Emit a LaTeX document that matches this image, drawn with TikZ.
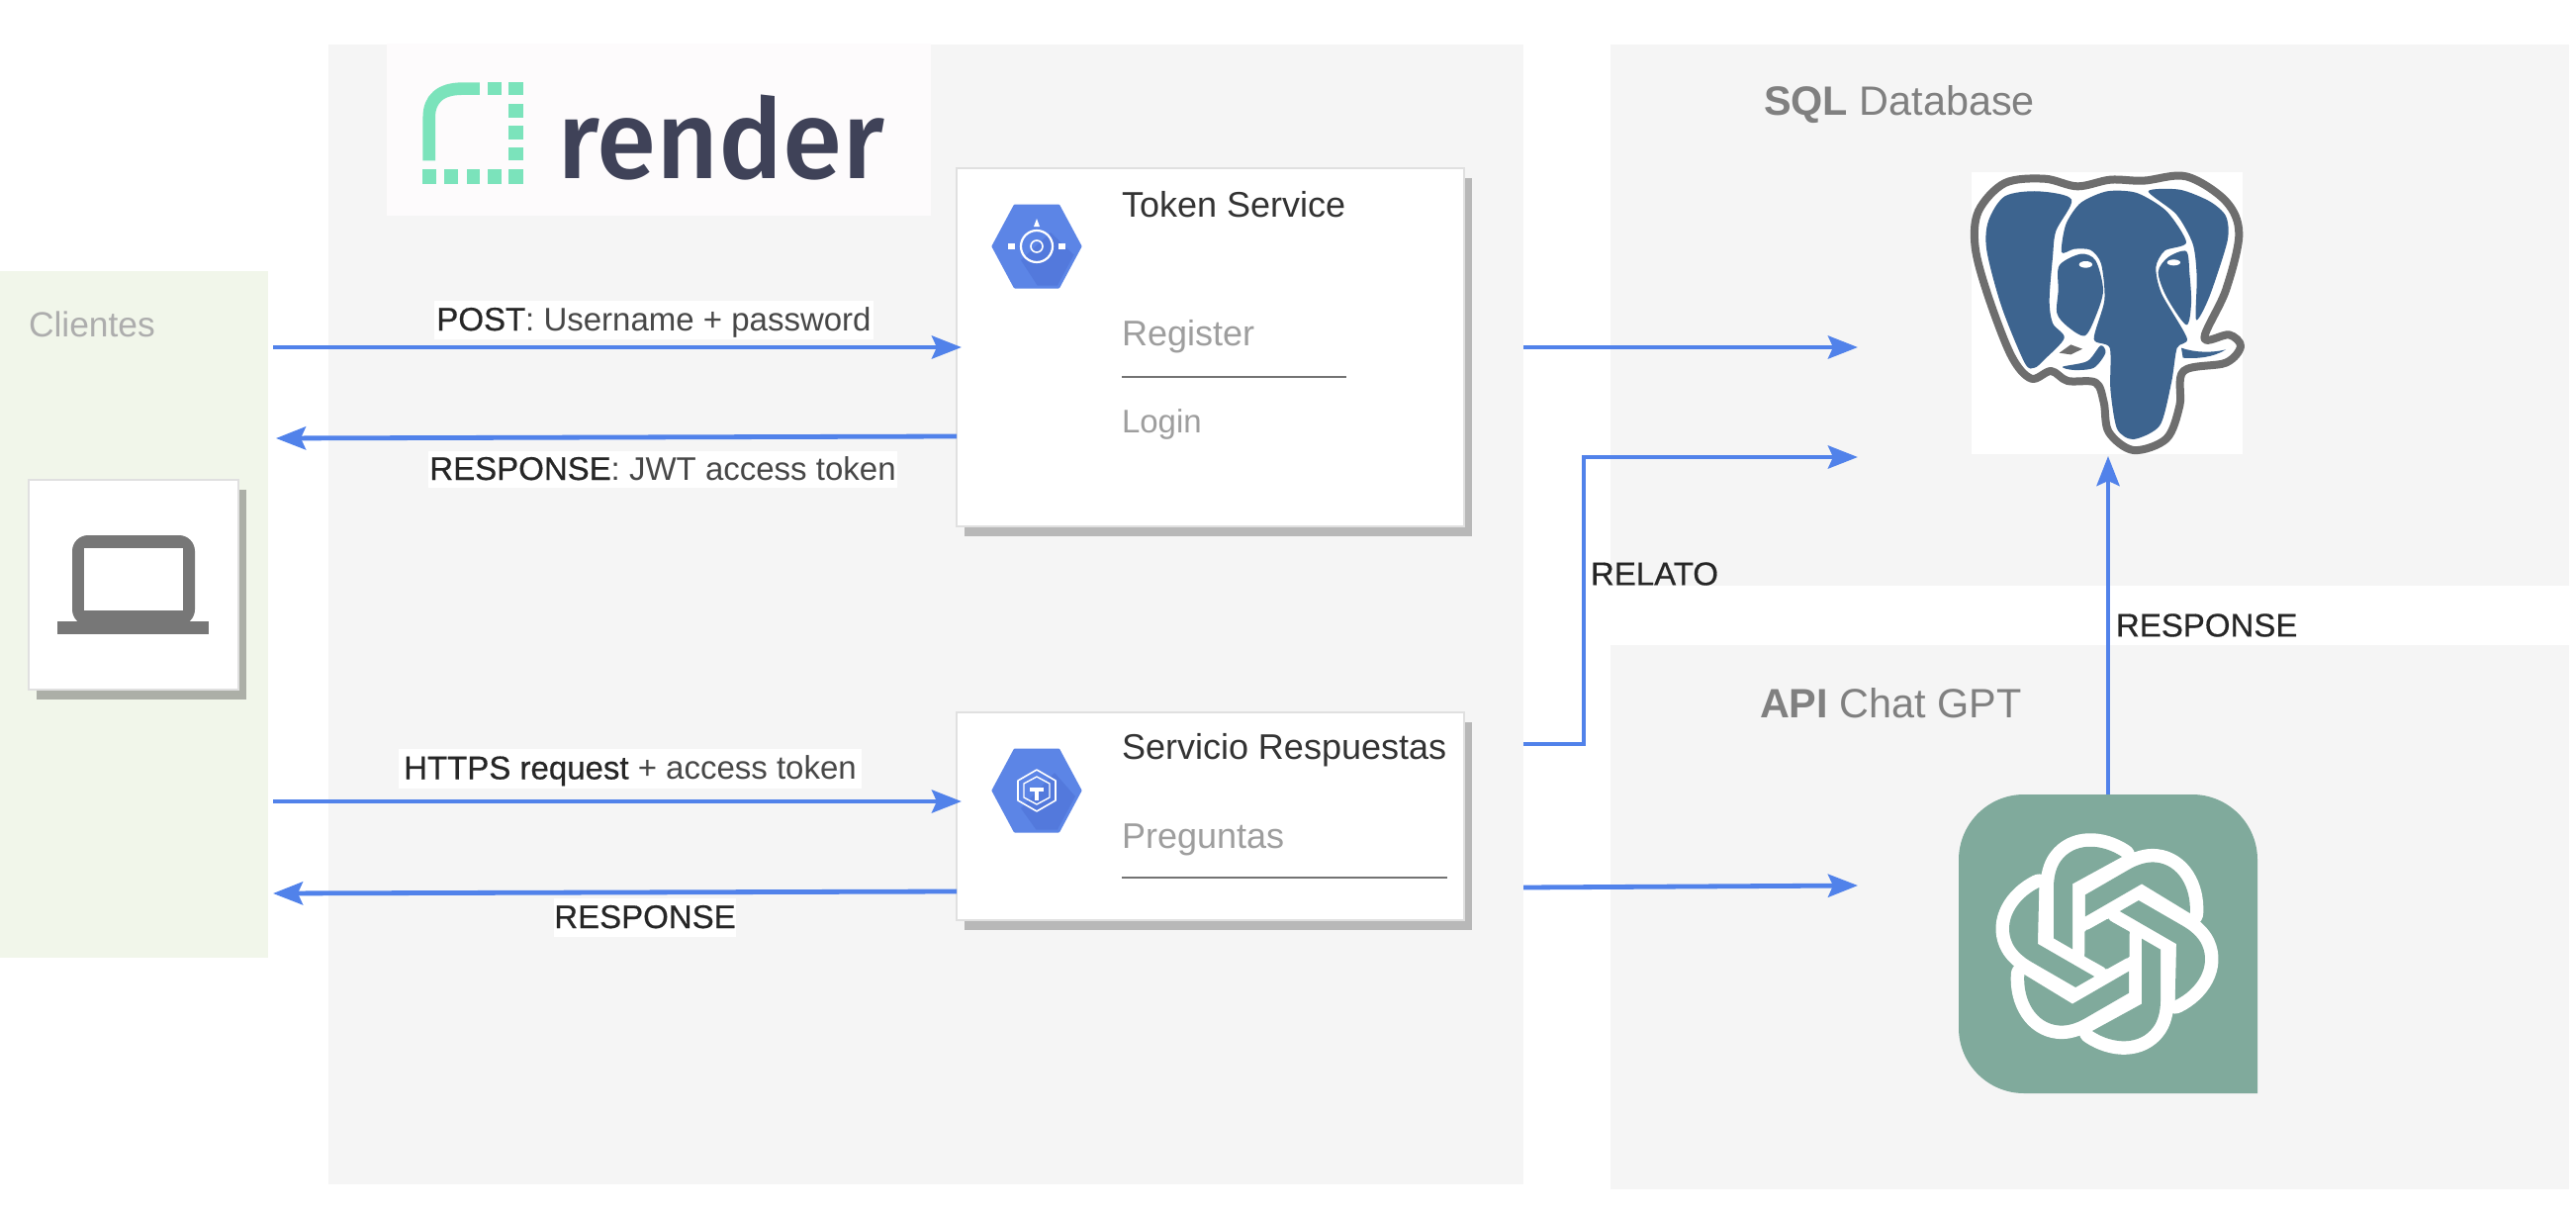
\documentclass[tikz,border=0pt]{standalone}
\usepackage{fontspec}
\setmainfont{Liberation Sans}
\newfontfamily\renderfont[FakeStretch=.975]{Fira Sans Medium}
\newfontfamily\heavyish[FakeBold=.5]{Liberation Sans}
\usetikzlibrary{arrows.meta,shadows,calc}
\definecolor{panelgrey}{HTML}{F5F5F5}
\definecolor{clientgreen}{HTML}{F1F6EA}
\definecolor{logobg}{HTML}{FDFBFC}
\definecolor{flowblue}{HTML}{5182EA}
\definecolor{mint}{HTML}{7BE3BB}
\definecolor{renderink}{HTML}{3F4258}
\definecolor{pgblue}{HTML}{3D648F}
\definecolor{pggrey}{HTML}{6E6E6E}
\definecolor{gptgreen}{HTML}{80AA9C}
\definecolor{hexlight}{HTML}{5C85E6}
\definecolor{hexdark}{HTML}{5379DC}
\definecolor{lapgrey}{HTML}{777777}
\tikzset{
  panel/.style={fill=#1,draw=none,inner sep=0pt,outer sep=0pt,anchor=north west},
  card/.style={fill=white,draw=black!12,line width=.8pt,inner sep=0pt,outer sep=0pt,anchor=north west,
    drop shadow={shadow xshift=3.8pt,shadow yshift=-5pt,fill=#1,opacity=1}},
  flow/.style={draw=flowblue,line width=2.4pt,-{Stealth[length=15pt,width=11.5pt,inset=2.5pt]}},
  edgelabel/.style={fill=white,inner sep=0pt,outer sep=0pt,text height=13pt,text depth=2.5pt,font=\fontsize{16.5}{18}\selectfont,text=black!72},
  freelabel/.style={inner sep=0pt,outer sep=0pt,font=\heavyish\fontsize{16.5}{18}\selectfont,text=black!85,anchor=west},
  title/.style={inner sep=0pt,outer sep=0pt,anchor=west,font=\fontsize{18}{20}\selectfont,text=black!80},
  subtitle/.style={inner sep=0pt,outer sep=0pt,anchor=west,font=\fontsize{18}{20}\selectfont,text=black!38},
  paneltitle/.style={inner sep=0pt,outer sep=0pt,anchor=west,font=\fontsize{20.7}{22}\selectfont,text=black!50},
  rule/.style={draw=black!55,line width=.9pt},
}
\newcommand{\hexshape}{(-44,0) -- (-22,-41) -- (22,-41) -- (44,0) -- (22,41) -- (-22,41) -- cycle}
\begin{document}
\begin{tikzpicture}[x=.5pt,y=-.5pt]
\useasboundingbox (0,0) rectangle (2604,1226);
% panels
\node[panel=clientgreen,minimum width=135.5pt,minimum height=347pt] (clients) at (0,274) {};
\node[panel=panelgrey,minimum width=604pt,minimum height=576pt] (renderpanel) at (332,45) {};
\node[panel=logobg,minimum width=275pt,minimum height=87pt] (logobox) at (391,44) {};
\node[panel=panelgrey,minimum width=484.5pt,minimum height=273.5pt] (sqlpanel) at (1628,45) {};
\node[panel=panelgrey,minimum width=484.5pt,minimum height=275pt] (apipanel) at (1628,652) {};
% render logo
\begin{scope}[shift={(380,30)},x=.1977pt,y=-.1667pt]
  \draw[mint,line width=6.3pt] (136,397) -- (136,265) .. controls (136,210) and (165,179) .. (220,179) -- (265,179);
  \foreach \xa/\xb in {285/320,340/378}{\fill[mint] (\xa,160) rectangle (\xb,198);}
  \foreach \ya/\yb in {225/268,290/333,357/397}{\fill[mint] (340,\ya) rectangle (378,\yb);}
  \foreach \xa/\xb in {118/155,174/210,232/265,285/320,340/378}{\fill[mint] (\xa,424) rectangle (\xb,467);}
\end{scope}
\node[inner sep=0pt,anchor=base west,text=renderink,font=\renderfont\fontsize{56}{56}\selectfont] (rendertext) at (563,180) {render};
% client card
\node[card=black!25!clientgreen!95!black,minimum width=106pt,minimum height=106pt] (laptopcard) at (29,485) {};
\fill[lapgrey,rounded corners=8pt] (73,541) rectangle (197,632);
\fill[white] (85,554) rectangle (185,617);
\fill[lapgrey] (58,628) rectangle (211,641);
\node[paneltitle,text=black!32,font=\fontsize{17.7}{20}\selectfont] (clientestitle) at (29,328) {Clientes};
% token card
\node[card=black!28,minimum width=256.5pt,minimum height=181pt] (token) at (967,170) {};
\node[title] (tokentitle) at (1134,207) {Token Service};
\node[subtitle] (register) at (1134,340) {Register};
\draw[rule] (1134,381) -- (1361,381);
\node[subtitle,font=\fontsize{16.5}{18}\selectfont] (login) at (1134,429) {Login};
% servicio card
\node[card=black!28,minimum width=256.5pt,minimum height=105pt] (servicio) at (967,720) {};
\node[title] (serviciotitle) at (1134,758) {Servicio Respuestas};
\node[subtitle] (preguntas) at (1134,849) {Preguntas};
\draw[rule] (1134,887) -- (1463,887);
% hex icons
\begin{scope}[shift={(1048,249)}]
  \begin{scope}\clip \hexshape;
    \fill[hexlight] (-50,-50) rectangle (50,50);
    \fill[hexdark] (14,-14) -- (60,30) -- (60,60) -- (14,60) -- (-16,14) -- cycle;
  \end{scope}
  \draw[hexlight,line width=1.5pt,line join=round] \hexshape;
  \draw[white,line width=1.1pt] (0,0) circle (16);
  \draw[white,line width=.8pt] (0,0) circle (6);
  \fill[white] (-29,-3) rectangle (-22,3);
  \fill[white] (22,-3) rectangle (29,3);
  \fill[white] (0,-28) -- (3,-20) -- (-3,-20) -- cycle;
\end{scope}
\begin{scope}[shift={(1048,799)}]
  \begin{scope}\clip \hexshape;
    \fill[hexlight] (-50,-50) rectangle (50,50);
    \fill[hexdark] (18,-18) -- (60,30) -- (60,60) -- (14,60) -- (-16,18) -- cycle;
  \end{scope}
  \draw[hexlight,line width=1.5pt,line join=round] \hexshape;
  \draw[white,line width=.8pt,line join=round] (0,-21) -- (19,-10) -- (19,10) -- (0,21) -- (-19,10) -- (-19,-10) -- cycle;
  \draw[white,line width=.7pt,line join=round] (0,-14) -- (13,-7) -- (13,7) -- (0,14) -- (-13,7) -- (-13,-7) -- cycle;
  \fill[white] (-7,-3) rectangle (7,1);
  \fill[white] (-2,0) rectangle (2,10);
\end{scope}
% postgres
\node[panel=white,minimum width=137pt,minimum height=142.5pt] (pg) at (1993,174) {};
\begin{scope}[shift={(1950,160)},x=.16667pt,y=-.16667pt]
  \draw[pggrey,fill=white,line width=4pt,line join=round]
    plot[smooth cycle,tension=.55] coordinates {(450,85) (350,62) (230,75) (150,160) (140,270) (180,420) (250,600) (310,668) (370,645) (420,675) (505,680) (530,740) (545,830) (620,885) (720,850) (760,750) (772,645) (900,620) (945,570) (910,535) (835,545) (900,400) (940,230) (900,130) (780,55) (650,68) (550,65)};
  \fill[pggrey] (395,590) -- (430,565) -- (465,578) -- (430,595) -- cycle;
  \fill[pgblue] plot[smooth cycle,tension=.5] coordinates {(432,125) (330,100) (230,115) (180,190) (175,280) (220,450) (290,620) (320,635) (350,610) (410,545) (375,500) (365,430) (375,300) (385,220)};
  \fill[pgblue] plot[smooth cycle,tension=.45] coordinates {(402,285) (415,200) (460,135) (540,100) (630,105) (720,160) (780,255) (715,280) (688,330) (705,410) (782,545) (752,575) (735,680) (700,810) (620,852) (570,820) (550,700) (548,575) (500,548) (532,430) (522,320) (490,278) (440,275)};
  \fill[pgblue] plot[smooth cycle,tension=.5] coordinates {(395,325) (460,290) (505,310) (528,400) (505,480) (472,538) (420,510) (388,470) (392,400)};
  \fill[pgblue] plot[smooth cycle,tension=.45] coordinates {(665,100) (760,95) (850,130) (900,175) (905,250) (850,420) (810,490) (812,360) (800,260) (750,170)};
  \fill[pgblue] plot[smooth cycle,tension=.5] coordinates {(725,300) (780,282) (790,350) (795,440) (780,505) (720,420) (695,345)};
  \fill[pgblue] plot[smooth cycle,tension=.5] coordinates {(405,632) (480,615) (520,568) (535,590) (500,635) (440,642)};
  \fill[pgblue] (765,575) .. controls (810,590) and (860,590) .. (900,580) .. controls (860,605) and (810,608) .. (770,605) -- cycle;
  \fill[white] (475,322) ellipse (20 and 10);
  \fill[white] (742,316) ellipse (20 and 9);
\end{scope}
% chatgpt badge
\node[inner sep=0pt,outer sep=0pt,anchor=north west,minimum width=151pt,minimum height=151pt] (gpt) at (1980,803) {};
\fill[gptgreen] (2282,1000) [rounded corners=33pt] -- (2282,803) -- (1980,803) -- (1980,1105) [sharp corners] -- (2282,1105) -- cycle;
\begin{scope}[shift={(1950,780)},x=.16667pt,y=-.16667pt]
  \foreach \a in {0,60,...,300}{
    \draw[white,line width=13.5pt,line join=round,rotate around={\a:(540,522)}]
      (585,258) .. controls (520,215) and (440,215) .. (400,270) .. controls (385,290) and (378,320) .. (378,350) -- (378,505) -- (435,538) -- (435,340) -- cycle;
  }
  \foreach \a in {0,60,...,300}{
    \fill[gptgreen,rotate around={\a:(540,522)}]
      (585,258) .. controls (520,215) and (440,215) .. (400,270) .. controls (385,290) and (378,320) .. (378,350) -- (378,505) -- (435,538) -- (435,340) -- cycle;
  }
  \fill[gptgreen] (540,447) -- (608,485) -- (608,560) -- (540,598) -- (472,560) -- (472,485) -- cycle;
\end{scope}
% panel titles
\node[paneltitle] (sqltitle) at (1783,106) {\textbf{SQL} Database};
\node[paneltitle] (apititle) at (1779,711) {\textbf{API} Chat GPT};
% free connector ends
\coordinate (dbinA) at (1878,351);
\coordinate (dbinB) at (1878,462);
\coordinate (gptin) at (1878,895);
\coordinate (relstart) at (1540,752);
\coordinate (gptstart) at (1540,897);
% connectors
\draw[flow,shorten <=2.5pt,shorten >=-2.5pt] (clients.east |- token.west) -- (token.west);
\draw[flow,shorten >=4pt] ([yshift=-45pt]token.west) -- ([yshift=-46pt]clients.east |- token.west);
\draw[flow,shorten <=2.5pt,shorten >=-2.5pt] ([yshift=7.5pt]clients.east |- servicio.west) -- ([yshift=7.5pt]servicio.west);
\draw[flow,shorten >=2.5pt] ([yshift=-38pt]servicio.west) -- ([yshift=-39pt]clients.east |- servicio.west);
\draw[flow] (renderpanel.east |- token.east) -- (dbinA);
\draw[flow] (relstart) -| (1601,462) -- (dbinB);
\draw[flow] (gptstart) -- (gptin);
\draw[flow,shorten >=1pt] (gpt.north) -- (gpt.north |- pg.south);
% labels
\node[edgelabel,minimum width=222pt,minimum height=19.5pt] (lpost) at (661,323.5) {{\heavyish\textcolor{black!85}{POST}}: Username + password};
\node[edgelabel,minimum width=237pt,minimum height=18.5pt] (lresp) at (670,474.5) {{\heavyish\textcolor{black!85}{RESPONSE}}: JWT access token};
\node[edgelabel,minimum width=234pt,minimum height=20pt] (lhttps) at (637,777) {{\heavyish\textcolor{black!85}{HTTPS request}} + access token};
\node[edgelabel,text=black!85,minimum width=92pt,minimum height=19.5pt] (lresp2) at (652,927.5) {{\heavyish RESPONSE}};
\node[freelabel] (lrelato) at (1608,580) {RELATO};
\node[freelabel] (lresp3) at (2139,632) {RESPONSE};
\end{tikzpicture}
\end{document}
